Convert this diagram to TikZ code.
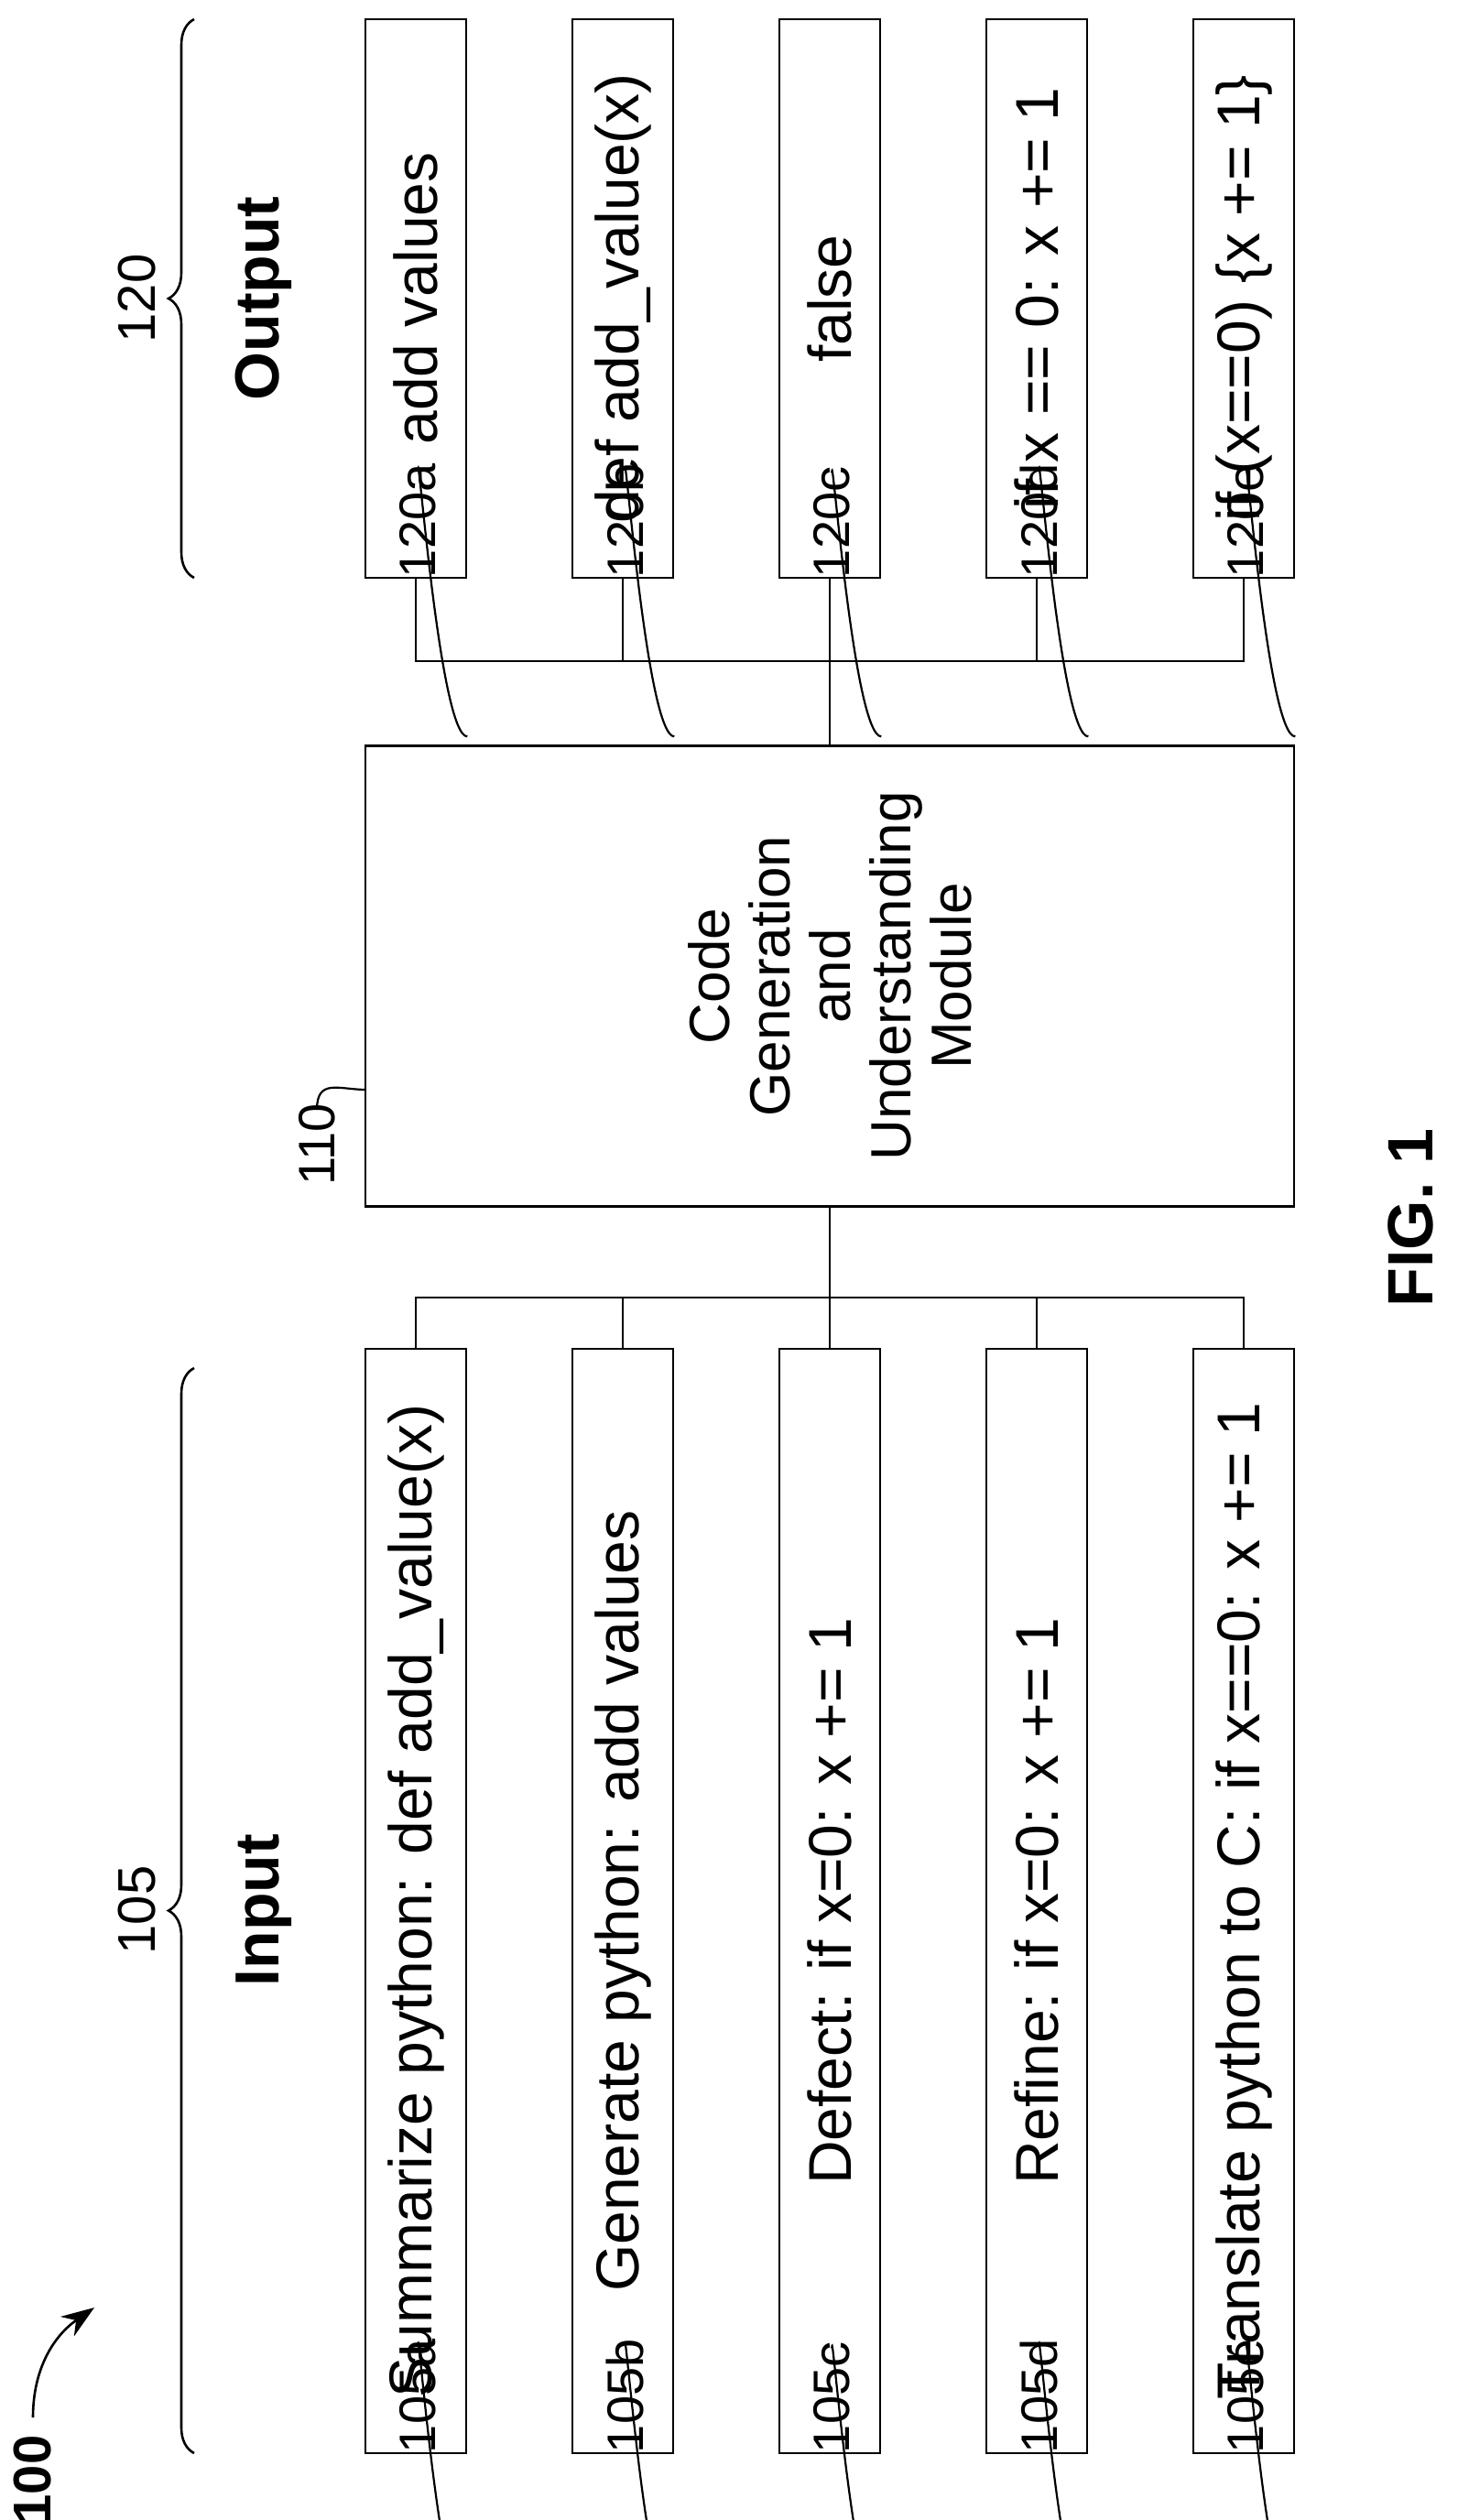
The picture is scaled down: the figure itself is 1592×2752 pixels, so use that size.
\documentclass[tikz,border=0pt]{standalone}
\usepackage{fontspec}
\setmainfont{Liberation Sans}
\usetikzlibrary{arrows.meta,decorations.pathreplacing}
\begin{document}
\begin{tikzpicture}[x=1pt,y=-1pt,line width=2.6pt,
  box/.style={draw,rotate=90,minimum width=1206pt,minimum height=110pt,inner sep=0pt,font=\fontsize{66}{70}\selectfont},
  obox/.style={draw,rotate=90,minimum width=610pt,minimum height=110pt,inner sep=0pt,font=\fontsize{66}{70}\selectfont},
  lab/.style={rotate=90,anchor=west,inner sep=0pt,font=\fontsize{56}{60}\selectfont},
  lead/.style={line width=2.2pt},
  brc/.style={decorate,decoration={brace,amplitude=28pt},line width=2.6pt},
  head/.style={rotate=90,font=\fontsize{68}{72}\selectfont\bfseries}]
\useasboundingbox (0,0) rectangle (1592,2752);
% input boxes
\node[box] (ia) at (454,2076) {Summarize python: def add\_value(x)};
\node[box] (ib) at (680,2076) {Generate python: add values};
\node[box] (ic) at (906,2076) {Defect: if x=0: x += 1};
\node[box] (id) at (1132,2076) {Refine: if x=0: x += 1};
\node[box] (ie) at (1358,2076) {Translate python to C: if x==0: x += 1};
% output boxes
\node[obox] (oa) at (454,326) {add values};
\node[obox] (ob) at (680,326) {def add\_value(x)};
\node[obox] (oc) at (906,326) {false};
\node[obox] (od) at (1132,326) {if x == 0: x += 1};
\node[obox] (oe) at (1358,326) {if (x==0) \{x += 1\}};
% module
\node[draw,rotate=90,minimum width=503pt,minimum height=1014pt,inner sep=0pt,align=center,
  font=\fontsize{62}{66}\selectfont] (mod) at (906,1066) {Code\\Generation\\and\\Understanding\\Module};
% buses
\coordinate (ibus) at (906,1417);
\coordinate (obus) at (906,722);
\foreach \n in {ia,ib,ic,id,ie}{\draw (\n.east) |- (ibus);}
\draw (ibus) -- (mod.west);
\foreach \n in {oa,ob,oc,od,oe}{\draw (\n.west) |- (obus);}
\draw (obus) -- (mod.east);
% labels
\foreach \n/\t in {ia/105a,ib/105b,ic/105c,id/105d,ie/105e}{
  \node[lab] (l\n) at ([xshift=-54pt]\n.south west) {\t};
  \draw[lead] ([yshift=-8pt]l\n.east) .. controls +(0,-35) and +(-30,0) .. ([yshift=-175pt]\n.south west);
}
\foreach \n/\t in {oa/120a,ob/120b,oc/120c,od/120d,oe/120e}{
  \node[lab] (l\n) at ([xshift=-54pt]\n.south west) {\t};
  \draw[lead] ([yshift=-8pt]l\n.east) .. controls +(0,-35) and +(-30,0) .. ([yshift=-172pt]\n.south west);
}
\node[lab] (lmod) at (346,1296) {110};
\draw[lead] ([yshift=-8pt]lmod.east) .. controls +(0,-35) and +(-30,0) .. (400,1190);
% braces
\draw[brc] (212,2679) -- (212,1494) coordinate[midway] (ibr);
\draw[brc] (212,631) -- (212,21) coordinate[midway] (obr);
\node[rotate=90,font=\fontsize{58}{60}\selectfont] (n105) at (150,2086) {105};
\node[rotate=90,font=\fontsize{58}{60}\selectfont] (n120) at (150,326) {120};
\node[head] (hin) at (288,2086) {Input};
\node[head] (hout) at (288,326) {Output};
% 100 and fig
\node[rotate=90,font=\fontsize{58}{60}\selectfont\bfseries] (n100) at (36,2708) {100};
\draw[-{Stealth[length=36pt,width=26pt]}] (36,2640) .. controls (36,2585) and (60,2550) .. (103,2520);
\node[rotate=90,font=\fontsize{70}{74}\selectfont\bfseries] (fig) at (1540,1330) {FIG. 1};
\end{tikzpicture}
\end{document}
